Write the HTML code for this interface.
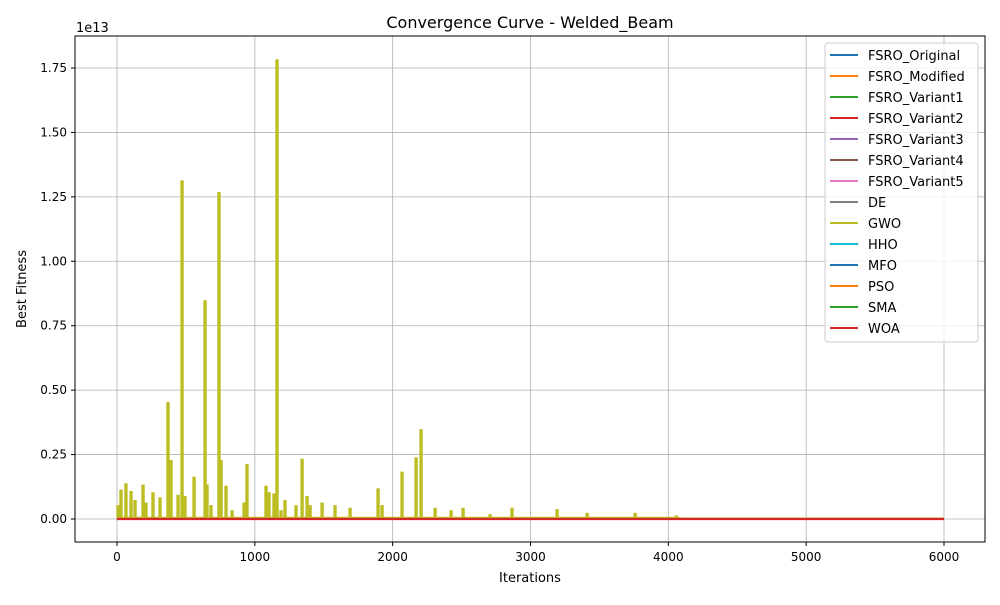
<!DOCTYPE html>
<html><head><meta charset="utf-8"><style>
body{margin:0;background:#fff}
svg text{font-family:"DejaVu Sans","Liberation Sans",sans-serif;fill:#000}
</style></head><body>
<svg id="chart" width="1000" height="600" xmlns="http://www.w3.org/2000/svg">
<rect width="1000" height="600" fill="#fff"/>
<g id="grid"></g>
<g id="series"></g>
<rect x="75" y="36" width="910" height="506" fill="none" stroke="#000" stroke-width="1"/>
<g id="ticks"></g>
<text x="530" y="28" font-size="16" text-anchor="middle">Convergence Curve - Welded_Beam</text>
<text x="530" y="582" font-size="13" text-anchor="middle">Iterations</text>
<text x="26" y="289" font-size="13" text-anchor="middle" transform="rotate(-90 26 289)">Best Fitness</text>
<text x="76" y="32" font-size="13">1e13</text>
<g id="legend"></g>
</svg>
<script>
const seriesNames=["FSRO_Original","FSRO_Modified","FSRO_Variant1","FSRO_Variant2","FSRO_Variant3","FSRO_Variant4","FSRO_Variant5","DE","GWO","HHO","MFO","PSO","SMA","WOA"];
const seriesColors=["#1f77b4","#ff7f0e","#2ca02c","#d62728","#9467bd","#8c564b","#e377c2","#7f7f7f","#bcbd22","#17becf","#1f77b4","#ff7f0e","#2ca02c","#d62728"];
const xTicks=[0,1000,2000,3000,4000,5000,6000];
const yTicks=[0,0.25,0.5,0.75,1.0,1.25,1.5,1.75];
const gwoIter=[7,29,65,102,131,189,210,261,312,370,392,443,472,493,559,639,653,682,740,755,791,835,922,943,1081,1103,1139,1161,1190,1219,1299,1343,1379,1401,1488,1582,1691,1894,1923,2068,2170,2206,2308,2424,2511,2707,2866,3193,3411,3759,4057];
const gwoVal=[0.5,1.1,1.35,1.05,0.7,1.3,0.6,1.0,0.8,4.5,2.25,0.9,13.1,0.85,1.6,8.45,1.3,0.5,12.65,2.25,1.25,0.3,0.6,2.1,1.25,1.0,0.95,17.8,0.3,0.7,0.5,2.3,0.85,0.5,0.6,0.5,0.4,1.15,0.5,1.8,2.35,3.45,0.4,0.3,0.4,0.15,0.4,0.35,0.2,0.2,0.1];
const maxIter=6000;
const NS="http://www.w3.org/2000/svg";
const X=v=>117+v*(944-117)/6000;
const Y=v=>519-v*(519-68)/1.75; // v in units of 1e13
function mk(t,a,p){const e=document.createElementNS(NS,t);for(const k in a)e.setAttribute(k,a[k]);p.appendChild(e);return e;}
const grid=document.getElementById('grid'),ticks=document.getElementById('ticks'),ser=document.getElementById('series'),leg=document.getElementById('legend');
xTicks.forEach(t=>{
  const l=mk('line',{x1:X(t),x2:X(t),y1:36,y2:542,stroke:'#b0b0b0','stroke-width':0.8},grid);
  
  
  mk('line',{x1:X(t),x2:X(t),y1:542,y2:546,stroke:'#000'},ticks);
  const tx=mk('text',{x:X(t),y:561,'font-size':12,'text-anchor':'middle'},ticks);tx.textContent=t;
  
  
});
yTicks.forEach(t=>{
  const l=mk('line',{x1:75,x2:985,y1:Y(t),y2:Y(t),stroke:'#b0b0b0','stroke-width':0.8},grid);
  
  
  mk('line',{x1:71,x2:75,y1:Y(t),y2:Y(t),stroke:'#000'},ticks);
  const tx=mk('text',{x:67,y:Y(t)+4,'font-size':12,'text-anchor':'end'},ticks);tx.textContent=t.toFixed(2);
  
  
});
seriesNames.forEach((n,i)=>{
  if(n==='GWO')return;
  const l=mk('line',{x1:X(0),x2:X(maxIter),y1:Y(0),y2:Y(0),stroke:seriesColors[i],'stroke-width':1.5},ser);
  
  
});
let pts=[[X(0),Y(0.003)]];
gwoIter.forEach((it,i)=>{
  const v=gwoVal[i]/10;
  pts.push([X(it-5),Y(0.005)],[X(it-5),Y(v)],[X(it+5),Y(v)],[X(it+5),Y(0.005)]);
});
pts.push([X(4100),Y(0.002)],[X(maxIter),Y(0.002)]);
const g=mk('polyline',{points:pts.map(p=>p.join(',')).join(' '),fill:'#bcbd22',stroke:'#bcbd22','stroke-width':2,'stroke-linejoin':'miter'},ser);


const w=mk('line',{x1:X(0),x2:X(maxIter),y1:Y(0),y2:Y(0),stroke:'#d62728','stroke-width':2.2},ser);


const box=mk('rect',{x:825,y:43,width:153,height:299,rx:3,fill:'#fff','fill-opacity':0.8,stroke:'#ccc'},leg);


seriesNames.forEach((n,i)=>{
  const y=55+i*21;
  const gg=mk('g',{},leg);
  
  
  mk('line',{x1:830,x2:858,y1:y,y2:y,stroke:seriesColors[i],'stroke-width':2},gg);
  const t=mk('text',{x:868,y:y+5,'font-size':13},gg);t.textContent=n;
});
</script>
</body></html>
